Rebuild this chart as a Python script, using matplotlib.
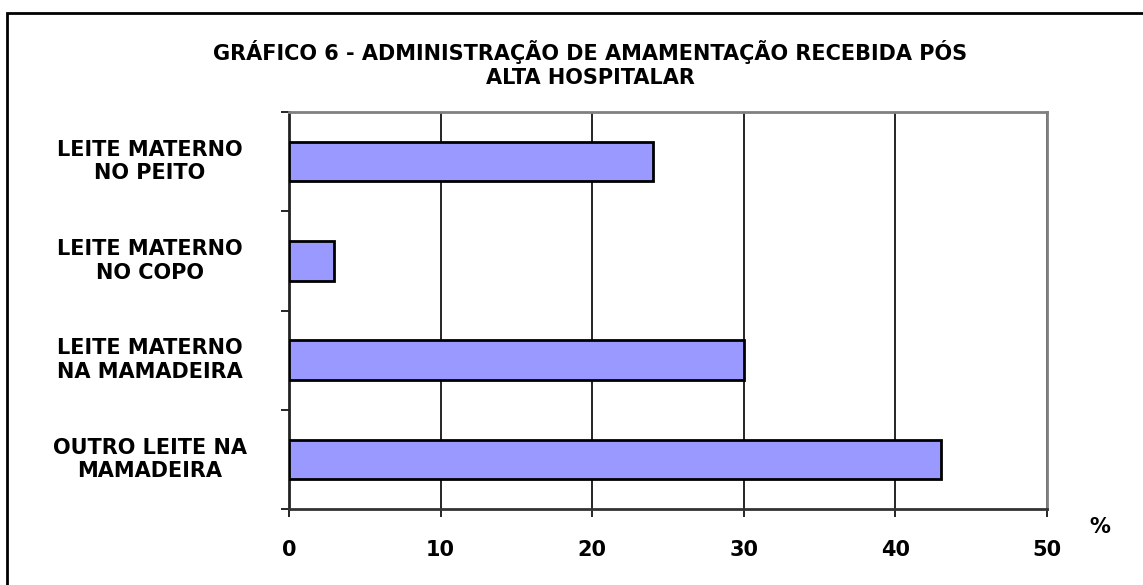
import matplotlib
matplotlib.use("Agg")
import matplotlib.pyplot as plt
from matplotlib.patches import Rectangle

categories = ["LEITE MATERNO\nNO PEITO", "LEITE MATERNO\nNO COPO",
              "LEITE MATERNO\nNA MAMADEIRA", "OUTRO LEITE NA\nMAMADEIRA"]
values = [24, 3, 30, 43]
xticks = [0, 10, 20, 30, 40, 50]
title = "GRÁFICO 6 - ADMINISTRAÇÃO DE AMAMENTAÇÃO RECEBIDA PÓS\nALTA HOSPITALAR"

plt.rcParams['font.family'] = ['DejaVu Sans']
FS = 15

fig = plt.figure(figsize=(11.43, 5.85), dpi=100)
W, H = 1143, 585
# outer border
fig.patches.append(Rectangle((7 / W, -0.1), 1.2, (585 - 13) / H + 0.1, transform=fig.transFigure,
                             fill=False, edgecolor='black', linewidth=2))

ax = fig.add_axes([289 / W, (585 - 509) / H, (1047 - 289) / W, (509 - 112) / H])
n = len(categories)
ypos = list(range(n))
ax.barh(ypos, values, height=0.4, color='#9999ff', edgecolor='black', linewidth=2, zorder=3)
ax.set_xlim(0, 50)
ax.set_ylim(n - 0.5, -0.5)
ax.set_xticks(xticks)
ax.set_xticklabels([str(t) for t in xticks], fontsize=FS, fontweight='bold')
ax.xaxis.grid(True, color='black', linewidth=1.2, zorder=0)
ax.set_axisbelow(True)

ax.set_yticks([i - 0.5 for i in range(n + 1)])
ax.set_yticklabels([])
ax.set_yticks(ypos, minor=True)
ax.set_yticklabels(categories, minor=True, fontsize=FS, fontweight='bold', ha='center',
                   va='center', linespacing=1.22)
ax.tick_params(axis='y', which='minor', length=0, pad=(289 - 150) * 0.72)
ax.tick_params(axis='y', which='major', length=6, width=1.2, color='black')
ax.tick_params(axis='x', length=6, width=1.2, pad=16)

for s in ['top', 'right']:
    ax.spines[s].set_color('#808080')
    ax.spines[s].set_linewidth(2)
ax.spines['left'].set_color('#222222')
ax.spines['left'].set_linewidth(2)
ax.spines['bottom'].set_color('#333333')
ax.spines['bottom'].set_linewidth(2)

fig.text(590 / W, 1 - 64 / H, title, ha='center', va='center', fontsize=FS,
         fontweight='bold', linespacing=1.25)
fig.text(1100 / W, 1 - 527 / H, "%", ha='center', va='center', fontsize=FS, fontweight='bold')

fig.savefig("out.png", dpi=100)
